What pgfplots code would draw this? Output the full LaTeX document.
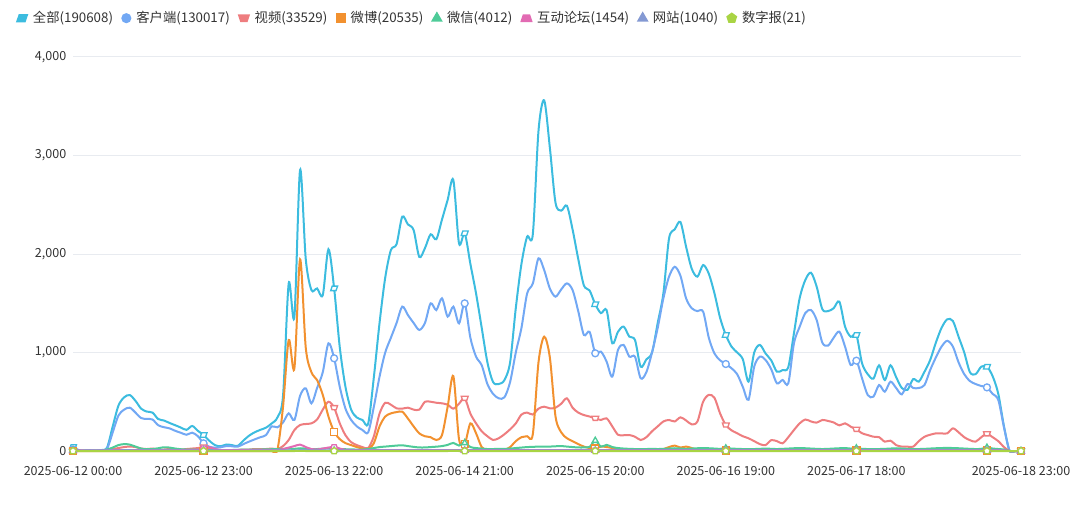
\documentclass[border=0pt]{standalone}
\usepackage{pgfplots}
\pgfplotsset{compat=1.18}
\usepackage{pgfplotstable}
\usepackage{fontspec}
\setmainfont{Noto Sans CJK SC}
\definecolor{cA}{HTML}{3CBCDF}
\definecolor{cB}{HTML}{72A8F4}
\definecolor{cV}{HTML}{EE7D7F}
\definecolor{cW}{HTML}{F2912F}
\definecolor{cX}{HTML}{4ECB98}
\definecolor{cH}{HTML}{E26BB3}
\definecolor{cZ}{HTML}{8499D3}
\definecolor{cS}{HTML}{A9D444}
\definecolor{gridc}{HTML}{E8EBF0}
\definecolor{txtc}{HTML}{333333}
\pgfdeclareplotmark{para}{%
 \pgfpathmoveto{\pgfqpoint{-1\pgfplotmarksize}{-0.65\pgfplotmarksize}}%
 \pgfpathlineto{\pgfqpoint{0.55\pgfplotmarksize}{-0.65\pgfplotmarksize}}%
 \pgfpathlineto{\pgfqpoint{1\pgfplotmarksize}{0.65\pgfplotmarksize}}%
 \pgfpathlineto{\pgfqpoint{-0.55\pgfplotmarksize}{0.65\pgfplotmarksize}}%
 \pgfpathclose\pgfusepathqfillstroke}
\pgfdeclareplotmark{trapdown}{%
 \pgfpathmoveto{\pgfqpoint{-1\pgfplotmarksize}{0.6\pgfplotmarksize}}%
 \pgfpathlineto{\pgfqpoint{1\pgfplotmarksize}{0.6\pgfplotmarksize}}%
 \pgfpathlineto{\pgfqpoint{0.6\pgfplotmarksize}{-0.6\pgfplotmarksize}}%
 \pgfpathlineto{\pgfqpoint{-0.6\pgfplotmarksize}{-0.6\pgfplotmarksize}}%
 \pgfpathclose\pgfusepathqfillstroke}
\pgfdeclareplotmark{trapup}{%
 \pgfpathmoveto{\pgfqpoint{-1\pgfplotmarksize}{-0.6\pgfplotmarksize}}%
 \pgfpathlineto{\pgfqpoint{1\pgfplotmarksize}{-0.6\pgfplotmarksize}}%
 \pgfpathlineto{\pgfqpoint{0.6\pgfplotmarksize}{0.6\pgfplotmarksize}}%
 \pgfpathlineto{\pgfqpoint{-0.6\pgfplotmarksize}{0.6\pgfplotmarksize}}%
 \pgfpathclose\pgfusepathqfillstroke}
\pgfplotstableread{
i A B V W X H Z S
0 40 15 5 0 5 5 5 0
1 10 5 3 0 3 6 4 0
2 6 4 3 0 3 5 5 0
3 8 5 5 0 4 6 6 0
4 6 4 5 0 4 5 5 0
5 10 6 5 0 6 6 6 0
6 35 22 10 0 15 7 6 0
7 250 190 20 0 35 8 7 0
8 460 360 30 0 60 8 7 0
9 545 420 40 0 70 9 8 0
10 568 440 45 0 65 9 8 0
11 510 390 40 0 45 8 7 0
12 430 335 25 0 25 8 7 0
13 400 325 20 0 18 7 6 0
14 390 320 25 0 20 8 7 0
15 325 262 15 0 28 8 6 0
16 310 242 15 0 38 8 7 0
17 285 230 20 0 35 7 6 0
18 262 205 15 0 25 8 6 0
19 238 185 15 0 18 8 6 0
20 215 165 20 0 15 8 6 0
21 254 186 25 0 15 10 6 0
22 205 150 30 0 12 14 6 0
23 162 78 40 0 10 30 6 0
24 105 44 30 0 8 40 6 0
25 60 34 15 0 8 20 6 0
26 48 38 10 0 8 10 5 0
27 66 50 10 0 10 8 5 0
28 60 48 10 0 10 8 5 0
29 52 44 10 0 12 8 5 0
30 105 70 15 0 14 8 5 0
31 155 95 15 0 15 8 5 0
32 190 118 20 0 15 8 6 0
33 215 140 20 0 15 8 6 0
34 237 162 20 0 16 8 6 0
35 280 250 25 0 18 8 6 0
36 340 240 20 10 20 10 6 0
37 560 290 50 450 22 20 6 0
38 1702 382 112 1127 24 35 7 0
39 1364 315 213 839 22 50 7 0
40 2853 560 264 1946 28 65 8 1
41 1950 636 274 1050 24 40 8 0
42 1634 484 281 800 20 20 7 0
43 1650 640 320 720 20 15 7 0
44 1583 800 420 570 24 25 7 0
45 2048 1093 500 350 26 35 7 0
46 1651 941 440 196 22 42 7 0
47 1050 650 280 120 20 25 7 0
48 650 430 160 80 18 12 6 0
49 420 315 90 60 16 10 6 0
50 340 250 60 40 15 8 6 0
51 315 213 40 25 15 8 6 0
52 280 190 30 20 20 8 6 0
53 750 450 150 80 30 8 6 0
54 1300 755 380 250 40 9 6 0
55 1760 1000 490 350 45 9 7 0
56 2040 1150 470 382 50 9 7 0
57 2100 1300 433 395 55 9 7 0
58 2379 1466 430 399 58 10 7 0
59 2300 1380 440 330 50 10 7 0
60 2244 1300 420 250 42 10 7 0
61 1970 1229 420 179 36 9 7 0
62 2060 1300 500 150 36 9 7 0
63 2200 1499 500 140 40 9 7 0
64 2150 1431 490 112 44 9 7 0
65 2350 1550 484 162 50 9 7 0
66 2550 1364 470 450 62 10 7 0
67 2751 1466 430 760 82 10 7 1
68 2108 1296 480 120 55 10 7 0
69 2210 1499 535 70 82 10 7 0
70 1900 1150 380 280 40 9 7 0
71 1600 958 281 180 30 9 6 0
72 1250 870 200 40 25 9 6 0
73 900 680 150 10 20 8 6 0
74 700 580 112 5 20 8 6 0
75 680 535 130 5 22 8 6 0
76 720 545 170 10 22 8 6 0
77 900 700 220 40 25 8 6 0
78 1450 1000 280 100 30 8 6 0
79 1900 1250 370 140 35 8 6 0
80 2176 1600 390 150 40 9 6 0
81 2200 1700 370 170 42 9 7 0
82 3250 1956 430 900 45 9 7 0
83 3560 1837 450 1161 45 10 7 0
84 3080 1650 433 950 45 10 7 0
85 2520 1567 440 350 48 10 7 0
86 2440 1640 480 190 50 10 7 0
87 2490 1702 535 130 45 10 7 0
88 2250 1635 440 100 40 9 7 0
89 1950 1420 390 70 36 9 7 0
90 1680 1178 365 45 36 9 7 0
91 1630 1210 350 30 42 9 7 0
92 1490 992 332 25 105 9 7 0
93 1400 1009 315 45 45 9 7 0
94 1430 907 332 40 62 9 7 0
95 1093 755 250 30 40 8 7 0
96 1210 1026 165 10 30 8 6 0
97 1263 1077 160 8 25 8 6 0
98 1161 958 162 5 22 8 6 0
99 1127 958 145 5 20 8 6 0
100 856 738 112 5 20 8 6 0
101 930 800 140 5 20 8 6 0
102 1000 1000 200 8 22 8 6 0
103 1300 1250 250 10 20 8 6 0
104 1600 1550 300 20 22 8 6 0
105 2159 1770 315 40 25 8 6 0
106 2250 1870 300 55 28 8 6 0
107 2325 1780 342 35 25 8 6 0
108 2074 1550 310 45 22 8 6 0
109 1850 1449 270 30 25 8 6 0
110 1770 1420 300 10 28 8 6 0
111 1888 1415 500 5 30 8 6 0
112 1800 1150 570 5 28 8 6 0
113 1600 990 540 5 25 8 6 0
114 1350 920 380 5 22 8 6 0
115 1178 883 264 5 28 8 6 0
116 1060 840 210 5 25 8 6 0
117 1000 780 180 5 22 8 6 0
118 930 650 150 5 20 8 6 0
119 704 520 129 5 18 8 6 0
120 1000 856 100 5 20 8 6 0
121 1077 958 70 5 22 8 6 0
122 990 924 60 5 25 8 6 0
123 920 830 110 5 22 8 6 0
124 805 687 100 5 20 8 6 0
125 822 721 78 5 22 8 6 0
126 850 687 140 5 25 8 6 0
127 1195 1093 213 5 28 8 6 0
128 1550 1260 280 5 30 8 6 0
129 1736 1400 320 5 28 8 6 0
130 1810 1432 300 5 25 8 6 0
131 1669 1330 288 5 22 8 6 0
132 1440 1100 315 5 20 8 6 0
133 1420 1070 305 5 22 8 6 0
134 1450 1150 290 5 25 8 6 0
135 1516 1212 260 5 28 8 6 0
136 1263 1060 281 5 30 8 6 0
137 1160 873 247 5 25 8 6 0
138 1178 917 220 5 28 8 6 0
139 890 738 180 5 22 8 6 0
140 780 568 162 5 20 8 6 0
141 735 552 145 5 18 8 6 0
142 870 670 140 5 20 8 6 0
143 720 602 95 5 22 8 6 0
144 870 704 105 5 25 8 6 0
145 750 640 60 5 28 8 6 0
146 640 575 45 5 25 8 6 0
147 620 680 44 5 22 8 6 0
148 730 640 44 5 20 8 6 0
149 705 640 100 5 20 8 6 0
150 805 670 145 5 22 8 6 0
151 924 822 165 5 25 8 6 0
152 1100 950 179 5 28 8 6 0
153 1250 1060 179 5 30 8 6 0
154 1337 1119 179 5 32 8 6 0
155 1320 1060 230 5 30 8 6 0
156 1160 900 190 5 28 8 6 0
157 1000 780 140 5 25 8 6 0
158 800 710 110 5 22 8 6 0
159 780 680 95 5 20 8 6 0
160 856 660 140 5 22 8 6 0
161 856 646 175 5 35 8 6 0
162 760 580 140 5 25 8 6 0
163 580 518 100 5 20 8 6 0
164 250 240 40 5 15 6 5 0
165 0 0 0 0 0 0 0 0
166 0 0 0 0 0 0 0 0
167 0 0 0 0 0 0 0 0
}\data
\begin{document}
\begin{tikzpicture}
\path[use as bounding box] (0,0) rectangle (810pt,396.75pt);
\begin{axis}[
 at={(54.75pt,57.02pt)}, anchor=south west,
 scale only axis, width=711pt, height=296.98pt,
 xmin=0, xmax=167, ymin=-20, ymax=4000,
 axis line style={draw=none},
 major tick length=0pt,
 xtick={0,23,46,69,92,115,138,167},
 xticklabels={2025-06-12 00:00,2025-06-12 23:00,2025-06-13 22:00,2025-06-14 21:00,2025-06-15 20:00,2025-06-16 19:00,2025-06-17 18:00,2025-06-18 23:00},
 ytick={0,1000,2000,3000,4000},
 scaled y ticks=false,
 ymajorgrids, grid style={color=gridc, line width=0.75pt},
 /pgf/number format/assume math mode=true,
 /pgf/number format/1000 sep={,},
 tick label style={font=\fontsize{9.4}{10}\selectfont, text=txtc},
 yticklabel style={xshift=-1.5pt},
 xticklabel style={yshift=-6.5pt},
 legend style={draw=none, fill=none, at={(axis description cs:-0.059,1.098)}, anchor=west,
   legend columns=-1, font=\fontsize{10}{11}\selectfont, text=txtc, inner sep=0pt,
   /tikz/every odd column/.append style={column sep=3pt},
   /tikz/every even column/.append style={column sep=5.5pt}, nodes={inner sep=1.5pt}},
 legend cell align=left,
 every axis plot/.append style={line width=1.5pt, smooth, tension=0.5, mark indices={1,24,47,70,93,116,139,162,168}, mark size=2.6pt},
]
\addplot[color=cA, mark=para, mark options={solid, fill=white, line width=1pt},
 legend image code/.code={\path plot[mark=para, mark size=3.6pt, mark options={draw=cA, fill=cA}] coordinates {(0pt,0pt)};}]
 table[x=i,y=A]{\data};
\addlegendentry{全部(190608)}
\addplot[color=cB, mark=*, mark options={solid, fill=white, line width=1pt},
 legend image code/.code={\path plot[mark=*, mark size=3pt, mark options={draw=cB, fill=cB}] coordinates {(0pt,0pt)};}]
 table[x=i,y=B]{\data};
\addlegendentry{客户端(130017)}
\addplot[color=cV, mark=trapdown, mark options={solid, fill=white, line width=1pt},
 legend image code/.code={\path plot[mark=trapdown, mark size=3.6pt, mark options={draw=cV, fill=cV}] coordinates {(0pt,0pt)};}]
 table[x=i,y=V]{\data};
\addlegendentry{视频(33529)}
\addplot[color=cW, mark=square*, mark options={solid, fill=white, line width=1pt},
 legend image code/.code={\path plot[mark=square*, mark size=3pt, mark options={draw=cW, fill=cW}] coordinates {(0pt,0pt)};}]
 table[x=i,y=W]{\data};
\addlegendentry{微博(20535)}
\addplot[color=cX, mark=triangle*, mark options={solid, fill=white, line width=1pt},
 legend image code/.code={\path plot[mark=triangle*, mark size=3.6pt, mark options={draw=cX, fill=cX}] coordinates {(0pt,0pt)};}]
 table[x=i,y=X]{\data};
\addlegendentry{微信(4012)}
\addplot[color=cH, mark=trapup, mark options={solid, fill=white, line width=1pt},
 legend image code/.code={\path plot[mark=trapup, mark size=3.6pt, mark options={draw=cH, fill=cH}] coordinates {(0pt,0pt)};}]
 table[x=i,y=H]{\data};
\addlegendentry{互动论坛(1454)}
\addplot[color=cZ, mark=triangle*, mark options={solid, fill=white, line width=1pt},
 legend image code/.code={\path plot[mark=triangle*, mark size=3.6pt, mark options={draw=cZ, fill=cZ}] coordinates {(0pt,0pt)};}]
 table[x=i,y=Z]{\data};
\addlegendentry{网站(1040)}
\addplot[color=cS, mark=pentagon*, mark options={solid, fill=white, line width=1pt},
 legend image code/.code={\path plot[mark=pentagon*, mark size=3.4pt, mark options={draw=cS, fill=cS}] coordinates {(0pt,0pt)};}]
 table[x=i,y=S]{\data};
\addlegendentry{数字报(21)}
\end{axis}
\end{tikzpicture}
\end{document}
